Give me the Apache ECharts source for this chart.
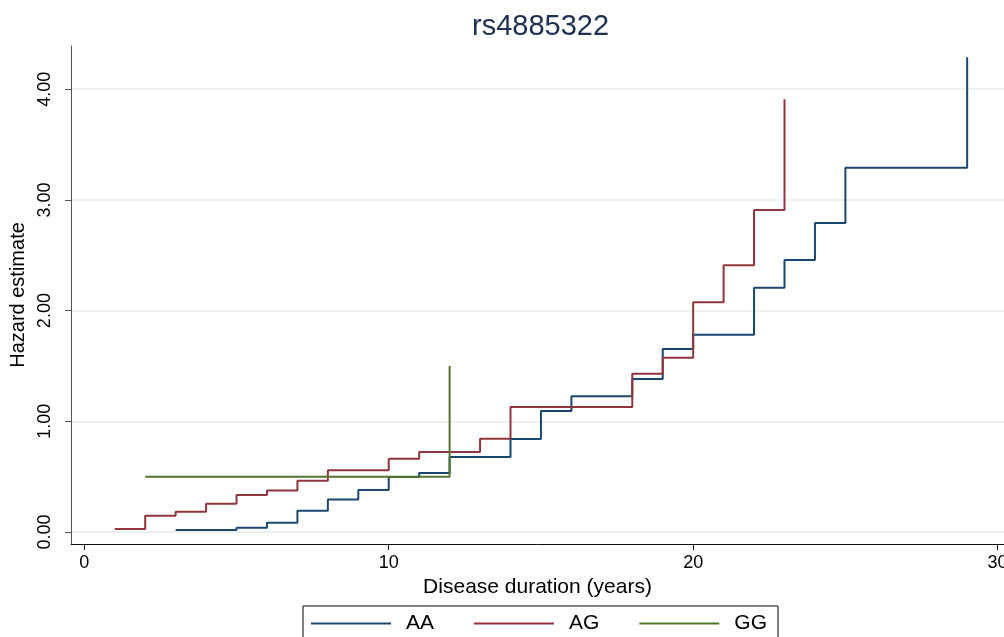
<!DOCTYPE html>
<html>
<head>
<meta charset="utf-8">
<script src="https://cdn.jsdelivr.net/npm/echarts@6/dist/echarts.min.js"></script>
<style>
html,body{margin:0;padding:0;background:#fff;overflow:hidden;}
#chart{width:1004px;height:637px;}
</style>
</head>
<body>
<div id="chart"></div>
<script>
// Step-function hazard estimates: [duration (years), hazard]
const seriesNames = ['AA', 'AG', 'GG'];
const hazardAA = [[3,0.018],[5,0.039],[6,0.084],[7,0.192],[8,0.295],[9,0.379],[10,0.497],[11,0.533],[12,0.677],[14,0.84],[15,1.093],[16,1.226],[18,1.382],[19,1.653],[20,1.782],[22,2.207],[23,2.457],[24,2.791],[25,3.291],[29,4.288]];
const hazardAG = [[1,0.027],[2,0.147],[3,0.183],[4,0.256],[5,0.334],[6,0.376],[7,0.464],[8,0.557],[10,0.662],[11,0.723],[13,0.843],[14,1.129],[18,1.43],[19,1.575],[20,2.075],[21,2.41],[22,2.909],[23,3.909]];
const hazardGG = [[2,0.5],[12,1.5]];
const xTicks = [0, 10, 20, 30];
const yTicks = [0, 1, 2, 3, 4];

const FONT = '"Liberation Sans", Arial, Helvetica, sans-serif';
const colors = ['#1a476f', '#90353b', '#55752f'];
const chart = echarts.init(document.getElementById('chart'), null, {renderer: 'canvas'});

function mk(name, data, color) {
  return {
    name: name, type: 'line', step: 'end', data: data,
    symbol: 'none', showSymbol: false, animation: false,
    lineStyle: {color: color, width: 2},
    itemStyle: {color: color}
  };
}

chart.setOption({
  backgroundColor: '#ffffff',
  animation: false,
  title: {
    text: 'rs4885322',
    left: 467, top: 7,
    textStyle: {fontFamily: FONT, fontSize: 29, fontWeight: 'normal', color: '#1e3050'}
  },
  grid: {left: 71, right: 0, top: 46, bottom: 93, containLabel: false, outerBoundsMode: 'none'},
  xAxis: {
    type: 'value', min: -0.437, max: 30.21,
    name: 'Disease duration (years)', nameLocation: 'middle', nameGap: 27,
    nameTextStyle: {fontFamily: FONT, fontSize: 21, color: '#000'},
    axisLine: {show: true, onZero: false, lineStyle: {color: '#111', width: 1}},
    axisTick: {show: true, length: 6, customValues: xTicks, lineStyle: {color: '#111'}},
    axisLabel: {customValues: xTicks, margin: 10, fontFamily: FONT, fontSize: 18, color: '#000',
      hideOverlap: false, formatter: v => String(v)},
    splitLine: {show: false}
  },
  yAxis: {
    type: 'value', min: -0.108, max: 4.39,
    name: 'Hazard estimate', nameLocation: 'middle', nameGap: 38,
    nameTextStyle: {fontFamily: FONT, fontSize: 20, color: '#000'},
    axisLine: {show: true, onZero: false, lineStyle: {color: '#555', width: 1}},
    axisTick: {show: true, length: 6, customValues: yTicks, lineStyle: {color: '#555'}},
    axisLabel: {customValues: yTicks, rotate: 90, margin: 17, fontFamily: FONT, fontSize: 18, color: '#000',
      formatter: v => v.toFixed(2)},
    splitLine: {show: true, lineStyle: {color: '#e6eef1', width: 1.5}}
  },
  legend: {
    data: seriesNames,
    left: 303, top: 606,
    orient: 'horizontal',
    padding: [7, 11, 7, 8],
    icon: 'rect',
    itemWidth: 80, itemHeight: 2, itemGap: 40,
    borderColor: '#000', borderWidth: 1, borderRadius: 0,
    textStyle: {fontFamily: FONT, fontSize: 21, lineHeight: 20, color: '#000', padding: [0, 0, 0, 10]}
  },
  series: [
    mk('AA', hazardAA, colors[0]),
    mk('AG', hazardAG, colors[1]),
    mk('GG', hazardGG, colors[2])
  ]
});
</script>
</body>
</html>
